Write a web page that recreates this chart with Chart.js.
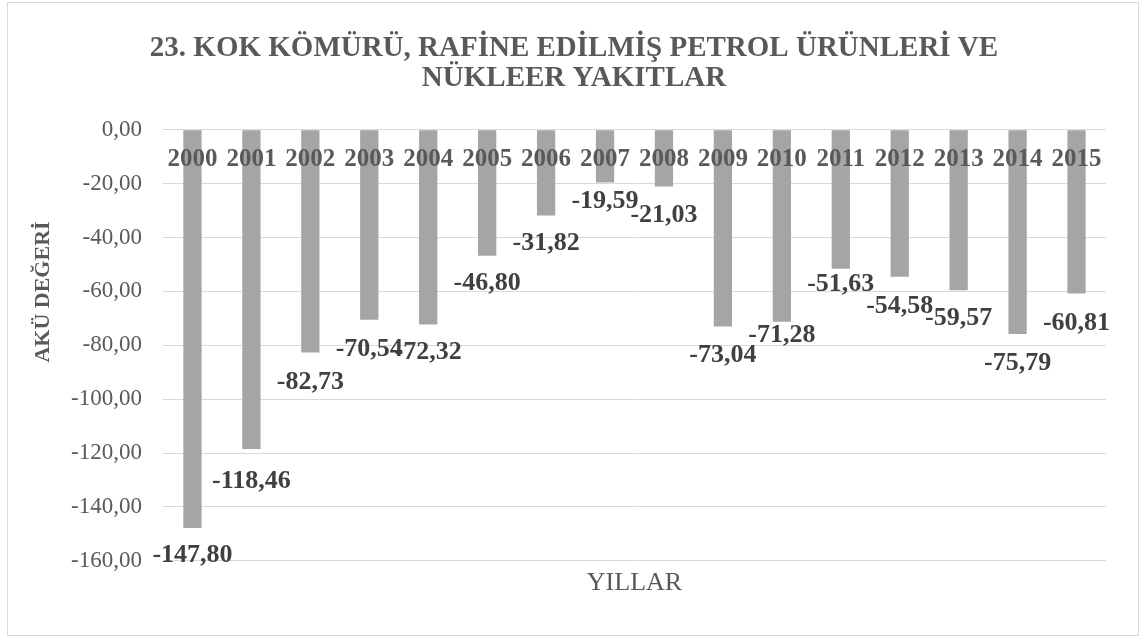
<!DOCTYPE html>
<html>
<head>
<meta charset="utf-8">
<script src="https://cdn.jsdelivr.net/npm/chart.js@4/dist/chart.umd.min.js"></script>
<style>
  html, body { margin: 0; padding: 0; background: #fff; }
  #frame { position: absolute; left: 7px; top: 2px; width: 1130px; height: 632px; border: 1px solid #d9d9d9; }
</style>
</head>
<body>
<div id="frame"><canvas id="chart"></canvas></div>
<script>
const years = ['2000','2001','2002','2003','2004','2005','2006','2007','2008','2009','2010','2011','2012','2013','2014','2015'];
const akuValues = [-147.80, -118.46, -82.73, -70.54, -72.32, -46.80, -31.82, -19.59, -21.03, -73.04, -71.28, -51.63, -54.58, -59.57, -75.79, -60.81];
// how far below the bar end each value label sits (Excel moved a few by hand)
const labelDrop = [27, 32, 30, 29, 28, 27, 28, 19, 29, 29, 14, 15, 29, 28, 29, 30];

const grey = '#595959';
const serif = "'Liberation Serif', 'Times New Roman', serif";
const fmt = v => v.toFixed(2).replace('.', ',');

const valueLabels = {
  id: 'valueLabels',
  afterDatasetsDraw(chart) {
    const ctx = chart.ctx;
    const meta = chart.getDatasetMeta(0);
    ctx.save();
    ctx.font = 'bold 26px ' + serif;
    ctx.fillStyle = '#404040';
    ctx.textAlign = 'center';
    ctx.textBaseline = 'middle';
    meta.data.forEach((bar, i) => {
      ctx.fillText(fmt(akuValues[i]), bar.x, bar.y + labelDrop[i]);
    });
    ctx.restore();
  }
};

// y axis title sits a bit above the middle of the axis in the original
const yTitle = {
  id: 'yTitle',
  afterDraw(chart) {
    const ctx = chart.ctx;
    ctx.save();
    ctx.translate(35, 289);
    ctx.rotate(-Math.PI / 2);
    ctx.font = 'bold 22px ' + serif;
    ctx.fillStyle = grey;
    ctx.textAlign = 'center';
    ctx.textBaseline = 'middle';
    ctx.fillText('AKÜ DEĞERİ', 0, 0);
    ctx.restore();
  }
};

const ctx = document.getElementById('chart').getContext('2d');
new Chart(ctx, {
  type: 'bar',
  data: {
    labels: years,
    datasets: [{
      data: akuValues,
      backgroundColor: '#a5a5a5',
      barPercentage: 0.62,
      categoryPercentage: 0.5
    }]
  },
  options: {
    responsive: true,
    maintainAspectRatio: false,
    animation: false,
    layout: { padding: { left: 34, right: 32, top: 0, bottom: 0 } },
    plugins: {
      legend: { display: false },
      tooltip: { enabled: false },
      title: {
        display: true,
        text: ['23. KOK KÖMÜRÜ, RAFİNE EDİLMİŞ PETROL ÜRÜNLERİ VE', 'NÜKLEER YAKITLAR'],
        color: grey,
        font: { family: serif, size: 29, weight: 'bold', lineHeight: 1.03 },
        padding: { top: 31, bottom: 36 }
      },
      subtitle: {
        display: true,
        position: 'bottom',
        fullSize: false,
        text: 'YILLAR',
        color: grey,
        font: { family: serif, size: 26, weight: 'normal', lineHeight: 1.2 },
        padding: { top: 7, bottom: 36 }
      }
    },
    scales: {
      x: {
        position: { y: 0 },
        grid: { display: false, drawTicks: false },
        border: { display: false },
        ticks: {
          z: 1,
          color: grey,
          padding: 15,
          maxRotation: 0,
          autoSkip: false,
          font: { family: serif, size: 25, weight: 'bold' }
        }
      },
      y: {
        min: -160,
        max: 0,
        afterFit: s => { s.width = 121; },
        grid: { color: '#d9d9d9', lineWidth: 1, drawTicks: false },
        border: { display: false },
        ticks: {
          stepSize: 20,
          padding: 21,
          color: grey,
          font: { family: serif, size: 23 },
          callback: v => fmt(v)
        }
      }
    }
  },
  plugins: [valueLabels, yTitle]
});
</script>
</body>
</html>
